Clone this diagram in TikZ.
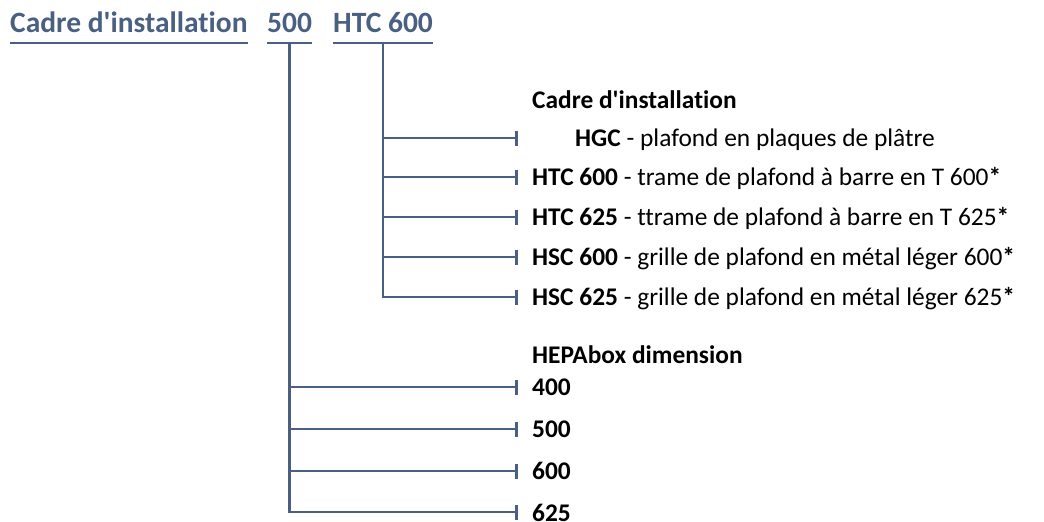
\documentclass[tikz,border=0pt]{standalone}
\usepackage{fontspec}
\setmainfont{Carlito}[Ligatures=NoCommon]
\usetikzlibrary{arrows.meta,calc}
\definecolor{slateline}{RGB}{74,96,130}
\definecolor{labelink}{RGB}{0,0,0}

\begin{document}
\begin{tikzpicture}[x=1pt,y=-1pt,
  trunk/.style={slateline,line width=2.6pt},
  branch/.style={trunk,-{Bar[width=15pt]}},
  headtxt/.style={font=\fontsize{29.5}{34}\selectfont\bfseries,text=slateline,inner sep=0pt,anchor=base west},
  itemtxt/.style={font=\fontsize{25.4}{30}\selectfont,text=labelink,inner sep=0pt,anchor=base west},
  boldtxt/.style={itemtxt,font=\fontsize{25.4}{30}\selectfont\bfseries}]
  \useasboundingbox (0,0) rectangle (1044,522);

  % code line
  \node[headtxt] (tcadre) at (10,32) {Cadre d\textquotesingle installation};
  \node[headtxt] (t500) at (267,32) {500};
  \node[headtxt] (thtc) at (333,32) {HTC 600};
  \draw[trunk] ($(tcadre.base west)+(0,11)$) -- ($(tcadre.base east)+(0,11)$);
  \draw[trunk] ($(t500.base west)+(0,11)$) -- ($(t500.base east)+(0,11)$);
  \draw[trunk] ($(thtc.base west)+(0,11)$) -- ($(thtc.base east)+(0,11)$);

  % tick ends
  \coordinate (kHGC) at (518,138);
  \coordinate (kHTCa) at (518,177);
  \coordinate (kHTCb) at (518,217);
  \coordinate (kHSCa) at (518,257);
  \coordinate (kHSCb) at (518,297);
  \coordinate (k400) at (518,387);
  \coordinate (k500) at (518,429);
  \coordinate (k600) at (518,471);
  \coordinate (k625) at (518,512);

  % installation frame
  \node[boldtxt] (hframe) at (532,108) {Cadre d\textquotesingle installation};
  \node[itemtxt] (lHGC) at (575,146) {\textbf{HGC} - plafond en plaques de plâtre};
  \node[itemtxt] (lHTCa) at (532,185) {\textbf{HTC 600} - trame de plafond à barre en T 600\textbf{*}};
  \node[itemtxt] (lHTCb) at (532,225) {\textbf{HTC 625} - ttrame de plafond à barre en T 625\textbf{*}};
  \node[itemtxt] (lHSCa) at (532,265) {\textbf{HSC 600} - grille de plafond en métal léger 600\textbf{*}};
  \node[itemtxt] (lHSCb) at (532,305) {\textbf{HSC 625} - grille de plafond en métal léger 625\textbf{*}};
  \draw[branch] ($(thtc.base)+(0,11)$) |- (kHSCb);
  \draw[branch] (thtc.base |- kHGC) -- (kHGC);
  \draw[branch] (thtc.base |- kHTCa) -- (kHTCa);
  \draw[branch] (thtc.base |- kHTCb) -- (kHTCb);
  \draw[branch] (thtc.base |- kHSCa) -- (kHSCa);

  % HEPAbox size
  \node[boldtxt] (hsize) at (532,363) {HEPAbox dimension};
  \node[boldtxt] (l400) at (532,395) {400};
  \node[boldtxt] (l500) at (532,437) {500};
  \node[boldtxt] (l600) at (532,479) {600};
  \node[boldtxt] (l625) at (532,521) {625};
  \draw[branch] ($(t500.base)+(0,11)$) |- (k625);
  \draw[branch] (t500.base |- k400) -- (k400);
  \draw[branch] (t500.base |- k500) -- (k500);
  \draw[branch] (t500.base |- k600) -- (k600);
\end{tikzpicture}
\end{document}
